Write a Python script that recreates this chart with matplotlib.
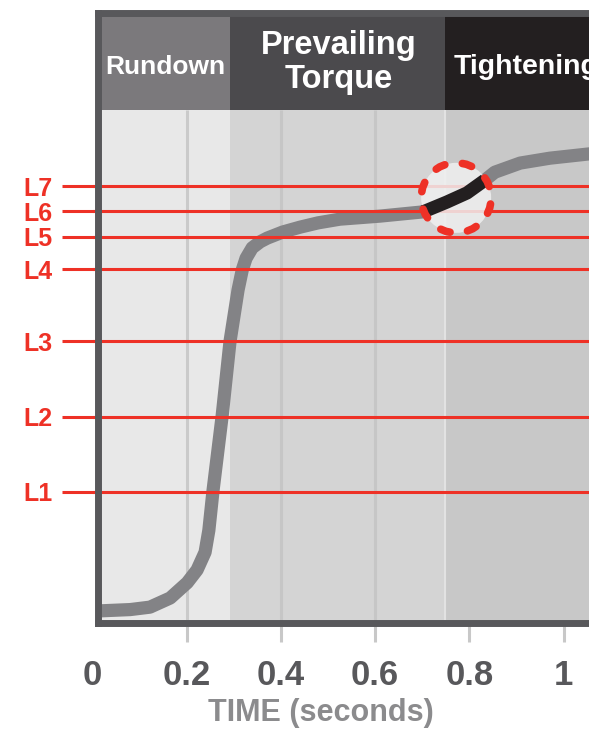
import matplotlib
matplotlib.use('Agg')
import matplotlib.pyplot as plt
from matplotlib.patches import Circle
from matplotlib.transforms import ScaledTranslation

plt.rcParams['font.family'] = ['Liberation Sans', 'DejaVu Sans']
plt.rcParams['font.weight'] = 'bold'
plt.rcParams['axes.labelweight'] = 'bold'
plt.rcParams['lines.scale_dashes'] = False

# torque curve (time in s, torque in arbitrary units 0..100)
curve_t = [0.010, 0.080, 0.122, 0.165, 0.201, 0.222, 0.239, 0.247, 0.256, 0.275,
           0.292, 0.309, 0.318, 0.326, 0.339, 0.356, 0.371, 0.404, 0.441, 0.479,
           0.525, 0.610, 0.702]
curve_q = [1.97, 2.2, 2.6, 4.1, 6.6, 8.7, 11.6, 15.2, 21.8, 33.8,
           46.2, 54.6, 57.9, 59.8, 61.5, 62.5, 63.1, 64.1, 64.9, 65.6,
           66.2, 66.7, 67.4]
hi_t = [0.702, 0.752, 0.795, 0.833]
hi_q = [67.4, 69.0, 70.5, 72.6]
tail_t = [0.833, 0.854, 0.908, 0.971, 1.054, 1.08]
tail_q = [72.6, 73.9, 75.4, 76.2, 76.9, 77.1]

levels = [21.5, 33.8, 46.2, 58.0, 63.3, 67.5, 71.6]
level_names = ['L1', 'L2', 'L3', 'L4', 'L5', 'L6', 'L7']

phases = ['Rundown', 'Prevailing\nTorque', 'Tightening']
phase_edges = [0.0117, 0.292, 0.748, 1.1]
phase_bg = ['#e8e8e8', '#d4d4d4', '#c8c8c8']
phase_head = ['#7b797c', '#4b4a4d', '#231f20']

xticks = [0.2, 0.4, 0.6, 0.8, 1.0]
xticklabels = ['0.2', '0.4', '0.6', '0.8', '1']

red = '#ee3126'
frame = '#58585b'
curve_gray = '#838386'
head_bottom = 84.1

fig = plt.figure(figsize=(5.89, 7.29), dpi=100)
ax = fig.add_axes([92.5 / 589, 1 - 623 / 729, 1 - 92.5 / 589, 610 / 729])
ax.set_xlim(0, 1.054)
ax.set_ylim(0, 100)
ax.patch.set_visible(False)

# phase backgrounds and header boxes
for i in range(3):
    ax.fill_between([phase_edges[i], phase_edges[i + 1]], 0, head_bottom,
                    color=phase_bg[i], lw=0, zorder=0.5)
    ax.fill_between([phase_edges[i], phase_edges[i + 1]], head_bottom, 100,
                    color=phase_head[i], lw=0, zorder=0.6)

# grid lines inside the plot
ax.vlines([0.2], 0, head_bottom, color='#cacaca', lw=2.2, zorder=0.8)
ax.vlines([0.4, 0.6], 0, head_bottom, color='#c6c6c6', lw=2.2, zorder=0.8)
ax.vlines([phase_edges[2]], 0, head_bottom, color='#e2e2e2', lw=1.5, zorder=0.8)

# header text
ax.text(0.154, 91.1, phases[0], color='white', fontsize=19, ha='center', va='center', zorder=3)
ax.text(0.523, 91.9, phases[1], color='white', fontsize=23.5, ha='center', va='center',
        linespacing=1.1, zorder=3)
ax.text(0.766, 91.1, phases[2], color='white', fontsize=20.5, ha='left', va='center', zorder=3)

# curve
ax.plot(curve_t, curve_q, color=curve_gray, lw=9.5, solid_joinstyle='round',
        solid_capstyle='butt', zorder=2.1)
ax.plot(tail_t, tail_q, color=curve_gray, lw=9.5, solid_joinstyle='round',
        solid_capstyle='round', zorder=2.1)

# torque levels
for lv in levels:
    ax.axhline(lv, color=red, lw=2.2, zorder=2.2)

# highlight circle
cx, cy = 0.772, 69.7
trans = fig.dpi_scale_trans + ScaledTranslation(cx, cy, ax.transData)
ax.add_patch(Circle((0, 0), 0.35, transform=trans, facecolor='#f0f0f0', alpha=0.85,
                    lw=0, zorder=2.3))
ax.plot(hi_t, hi_q, color='#231f20', lw=9.5, solid_capstyle='butt',
        solid_joinstyle='round', zorder=2.4)
ring = Circle((0, 0), 0.35, transform=trans, fill=False, edgecolor=red, lw=5.5,
              zorder=2.45, capstyle='round')
ring.set_linestyle((11.5, (7.0, 12.8)))
ax.add_patch(ring)

# frame
for side in ['left', 'top', 'bottom']:
    ax.spines[side].set_color(frame)
    ax.spines[side].set_linewidth(5)
    ax.spines[side].set_capstyle('projecting')
    ax.spines[side].set_zorder(2.5)
ax.spines['right'].set_visible(False)
ax.spines['left'].set_position(('data', 0.0117))
ax.spines['top'].set_bounds(0.0117, 1.054)
ax.spines['bottom'].set_bounds(0.0117, 1.054)

# x ticks
ax.set_xticks(xticks, labels=xticklabels)
ax.set_xticks([0], labels=['0'], minor=True)
ax.tick_params(axis='x', which='major', length=14, width=2.2, color='#c8c8c8',
               labelsize=25, labelcolor=frame, pad=12)
ax.tick_params(axis='x', which='minor', length=0, labelsize=25, labelcolor=frame, pad=26)

# y ticks as level labels
ax.set_yticks(levels, labels=level_names)
ax.tick_params(axis='y', length=26, width=2.2, color=red, labelsize=18,
               labelcolor=red, pad=7)

ax.set_xlabel('TIME (seconds)', fontsize=22, color='#8b8b8d')
ax.xaxis.set_label_coords(0.46, -0.147)
ax.xaxis.label.set_va('center')

fig.savefig('out.png', dpi=100)
